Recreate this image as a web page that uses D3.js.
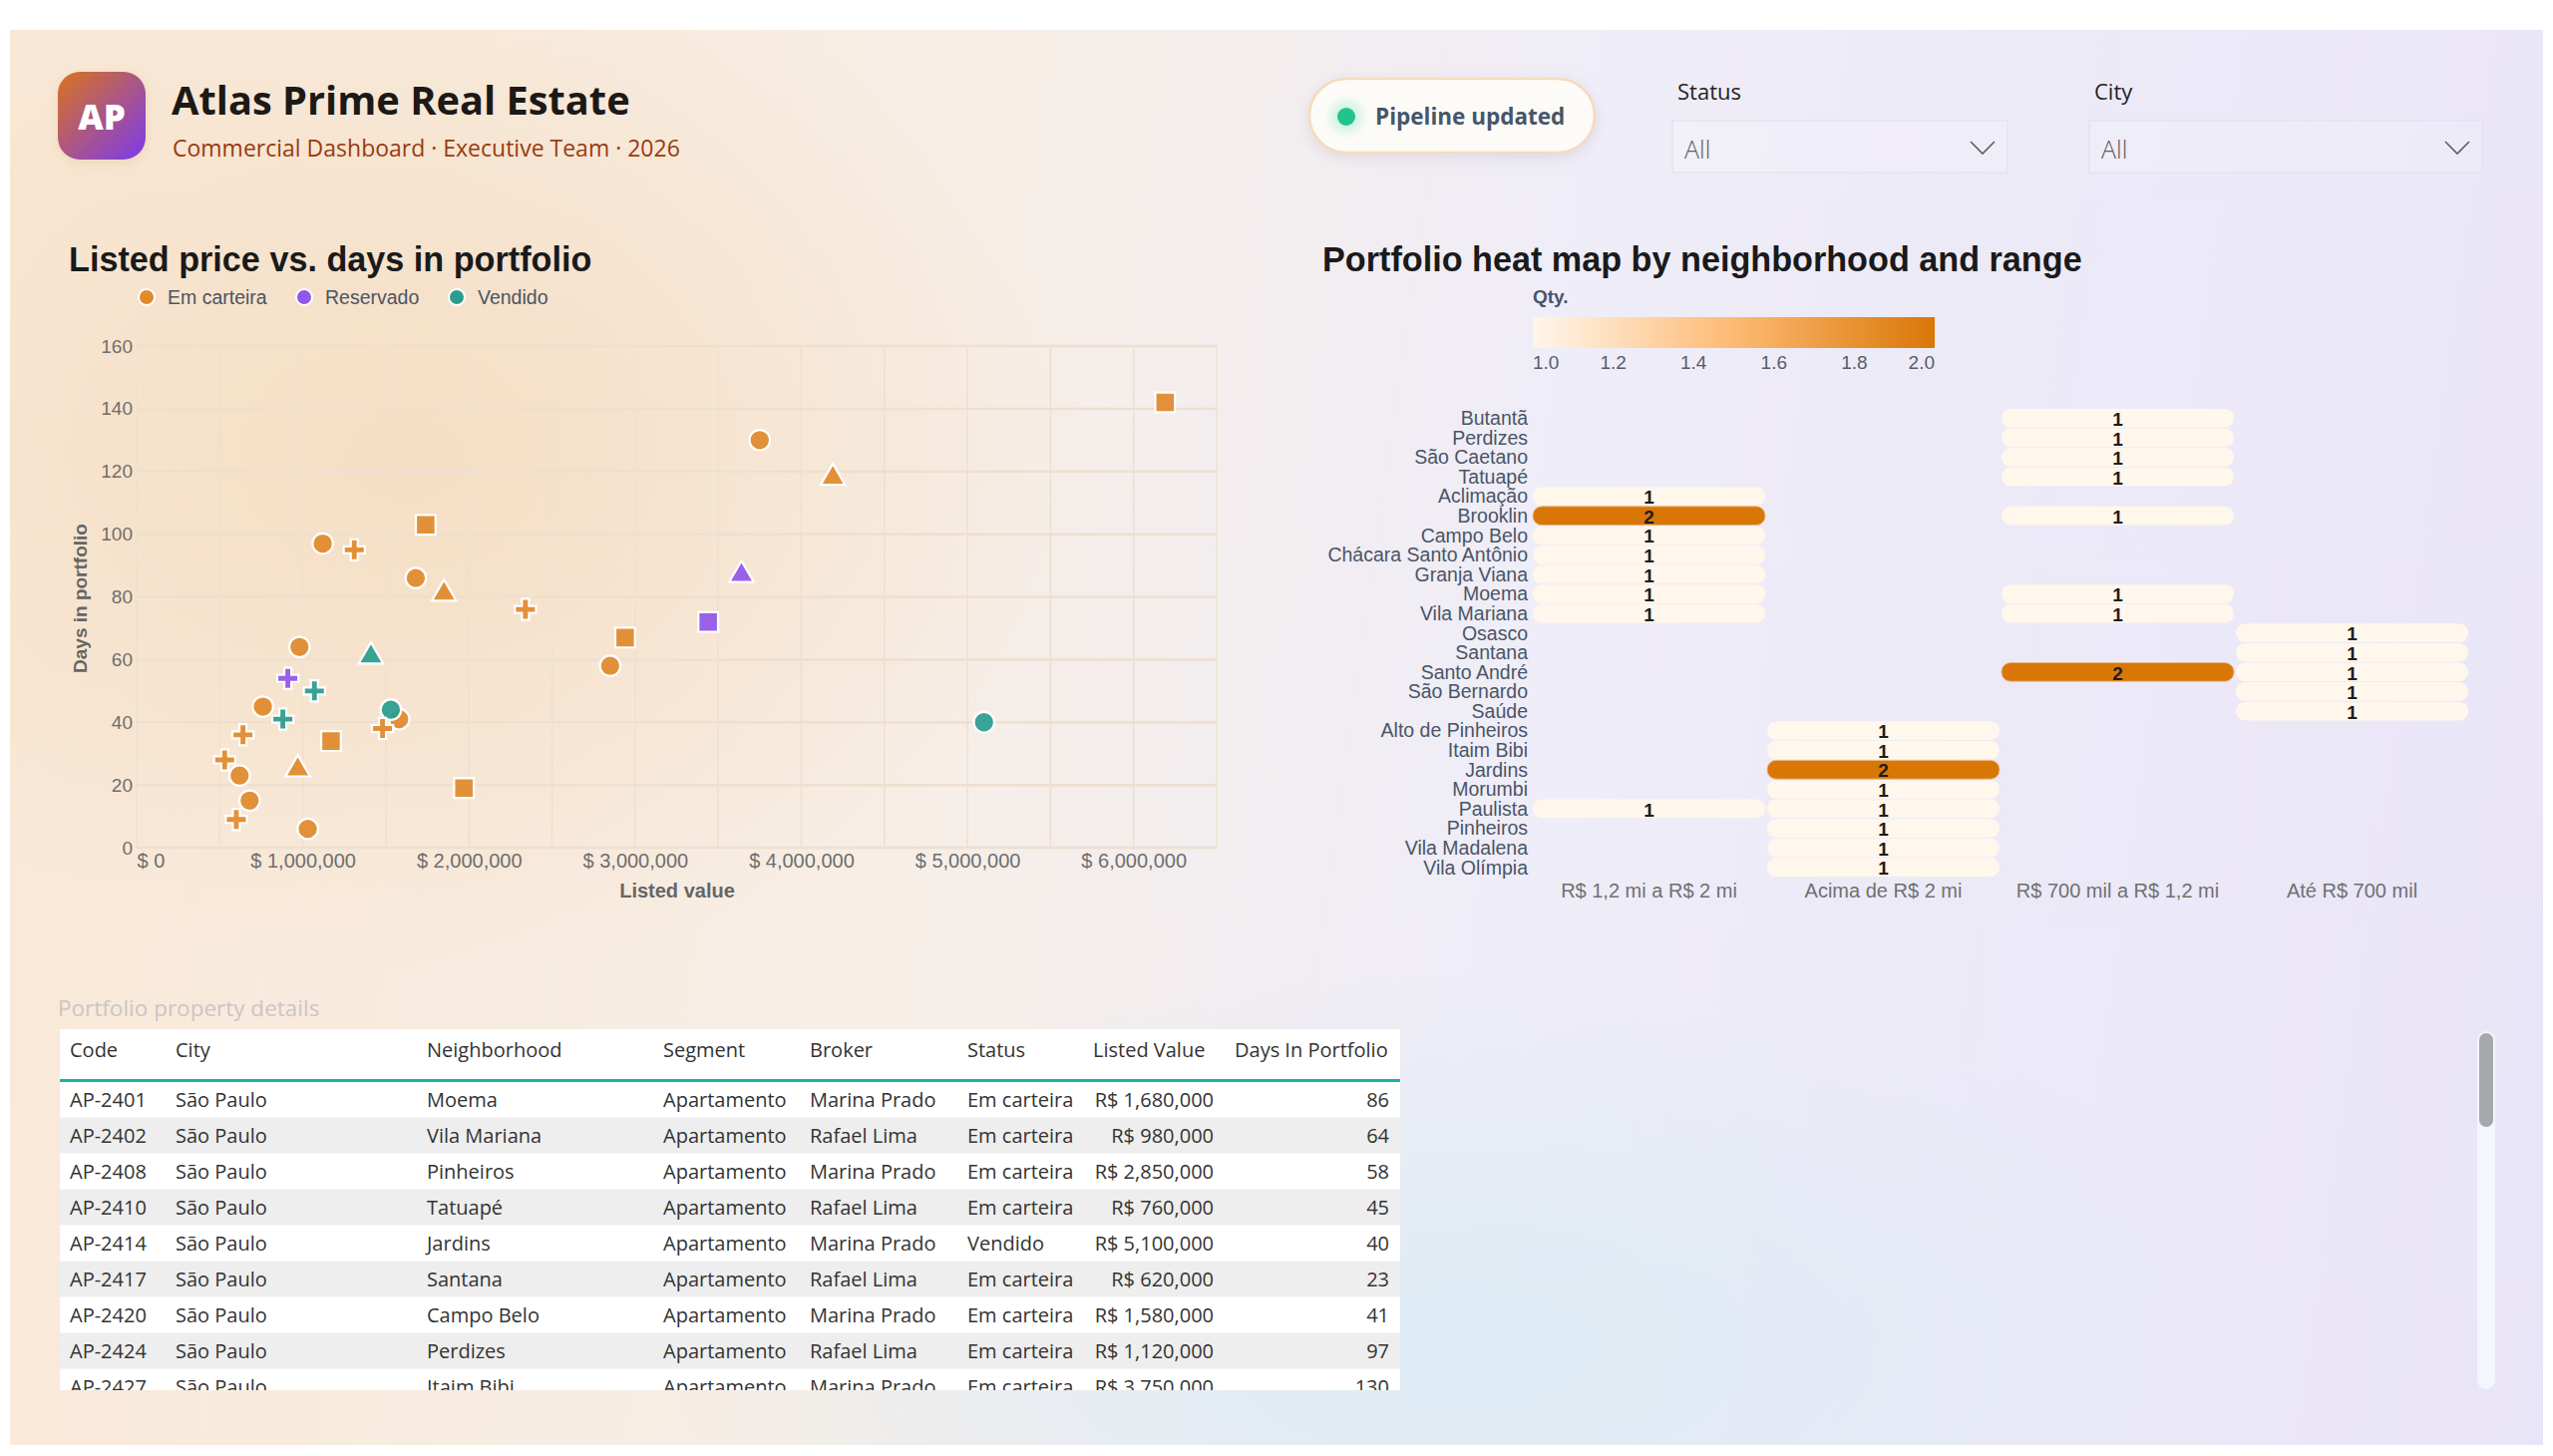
<!DOCTYPE html>
<html>
<head>
<meta charset="utf-8">
<script src="https://cdn.jsdelivr.net/npm/d3@7"></script>
<style>
  body { margin: 0; background: #ffffff; width: 2560px; height: 1460px; overflow: hidden; position: relative; }
  #panel {
    position: absolute; left: 10px; top: 30px; width: 2540px; height: 1419px;
    background:
      radial-gradient(ellipse 950px 720px at 400px 430px, rgba(245,221,193,0.95), rgba(245,221,193,0) 72%),
      radial-gradient(ellipse 1150px 520px at 1450px 1320px, rgba(221,235,244,1), rgba(221,235,244,0) 72%),
      linear-gradient(98deg, #f9e8d6 0%, #f7eee6 36%, #efedf7 58%, #e9e5f8 100%);
  }
  svg { position: absolute; left: 0; top: 0; }
</style>
</head>
<body>
<div id="panel"></div>
<svg id="dash" width="2560" height="1460"></svg>
<script>
// ---- data ----
const statuses = ["Em carteira", "Reservado", "Vendido"];
const statusColors = ["#e08a2c", "#9256ea", "#2a9d8f"];
const segments = ["Apartamento", "Casa", "Cobertura", "Sala comercial"];

// scatter points (one entry per property)
const listedValues = [1680000, 980000, 2850000, 760000, 5100000, 620000, 1580000, 1120000, 3750000,
  1740000, 1310000, 1850000, 2340000, 3640000, 3440000, 2940000, 1410000, 910000, 1070000,
  1530000, 880000, 1480000, 640000, 1170000, 530000, 970000, 1970000, 680000, 600000, 1030000,
  4190000, 6190000];
const daysInPortfolio = [86, 64, 58, 45, 40, 23, 41, 97, 130,
  103, 95, 81, 76, 87, 72, 67, 61, 54, 50,
  44, 41, 38, 36, 34, 28, 25, 19, 15, 9, 6,
  118, 142];
const pointStatus = ["Em carteira", "Em carteira", "Em carteira", "Em carteira", "Vendido", "Em carteira", "Em carteira", "Em carteira", "Em carteira",
  "Em carteira", "Em carteira", "Em carteira", "Em carteira", "Reservado", "Reservado", "Em carteira", "Vendido", "Reservado", "Vendido",
  "Vendido", "Vendido", "Em carteira", "Em carteira", "Em carteira", "Em carteira", "Em carteira", "Em carteira", "Em carteira", "Em carteira", "Em carteira",
  "Em carteira", "Em carteira"];
const pointSegment = ["Apartamento", "Apartamento", "Apartamento", "Apartamento", "Apartamento", "Apartamento", "Apartamento", "Apartamento", "Apartamento",
  "Casa", "Sala comercial", "Cobertura", "Sala comercial", "Cobertura", "Casa", "Casa", "Cobertura", "Sala comercial", "Sala comercial",
  "Apartamento", "Sala comercial", "Sala comercial", "Sala comercial", "Casa", "Sala comercial", "Cobertura", "Casa", "Apartamento", "Sala comercial", "Apartamento",
  "Cobertura", "Casa"];

const xTicks = [0, 1000000, 2000000, 3000000, 4000000, 5000000, 6000000];
const yTicks = [0, 20, 40, 60, 80, 100, 120, 140, 160];

// heat map
const neighborhoods = ["Butantã", "Perdizes", "São Caetano", "Tatuapé", "Aclimação", "Brooklin", "Campo Belo",
  "Chácara Santo Antônio", "Granja Viana", "Moema", "Vila Mariana", "Osasco", "Santana", "Santo André",
  "São Bernardo", "Saúde", "Alto de Pinheiros", "Itaim Bibi", "Jardins", "Morumbi", "Paulista",
  "Pinheiros", "Vila Madalena", "Vila Olímpia"];
const priceRanges = ["R$ 1,2 mi a R$ 2 mi", "Acima de R$ 2 mi", "R$ 700 mil a R$ 1,2 mi", "Até R$ 700 mil"];
const heatNeighborhood = ["Aclimação", "Brooklin", "Campo Belo", "Chácara Santo Antônio", "Granja Viana", "Moema", "Vila Mariana", "Paulista",
  "Alto de Pinheiros", "Itaim Bibi", "Jardins", "Morumbi", "Paulista", "Pinheiros", "Vila Madalena", "Vila Olímpia",
  "Butantã", "Perdizes", "São Caetano", "Tatuapé", "Brooklin", "Moema", "Vila Mariana", "Santo André",
  "Osasco", "Santana", "Santo André", "São Bernardo", "Saúde"];
const heatRange = [0, 0, 0, 0, 0, 0, 0, 0,
  1, 1, 1, 1, 1, 1, 1, 1,
  2, 2, 2, 2, 2, 2, 2, 2,
  3, 3, 3, 3, 3];
const heatQty = [1, 2, 1, 1, 1, 1, 1, 1,
  1, 1, 2, 1, 1, 1, 1, 1,
  1, 1, 1, 1, 1, 1, 1, 2,
  1, 1, 1, 1, 1];
const qtyTicks = [1.0, 1.2, 1.4, 1.6, 1.8, 2.0];

// table
const tableHeaders = ["Code", "City", "Neighborhood", "Segment", "Broker", "Status", "Listed Value", "Days In Portfolio"];
const tableRows = [
  ["AP-2401", "São Paulo", "Moema", "Apartamento", "Marina Prado", "Em carteira", 1680000, 86],
  ["AP-2402", "São Paulo", "Vila Mariana", "Apartamento", "Rafael Lima", "Em carteira", 980000, 64],
  ["AP-2408", "São Paulo", "Pinheiros", "Apartamento", "Marina Prado", "Em carteira", 2850000, 58],
  ["AP-2410", "São Paulo", "Tatuapé", "Apartamento", "Rafael Lima", "Em carteira", 760000, 45],
  ["AP-2414", "São Paulo", "Jardins", "Apartamento", "Marina Prado", "Vendido", 5100000, 40],
  ["AP-2417", "São Paulo", "Santana", "Apartamento", "Rafael Lima", "Em carteira", 620000, 23],
  ["AP-2420", "São Paulo", "Campo Belo", "Apartamento", "Marina Prado", "Em carteira", 1580000, 41],
  ["AP-2424", "São Paulo", "Perdizes", "Apartamento", "Rafael Lima", "Em carteira", 1120000, 97],
  ["AP-2427", "São Paulo", "Itaim Bibi", "Apartamento", "Marina Prado", "Em carteira", 3750000, 130]
];

const uiFont = "'Segoe UI', 'Open Sans', sans-serif";
const chartFont = "'Liberation Sans', Arial, sans-serif";

const svg = d3.select("#dash");
const defs = svg.append("defs");

// ---------- header ----------
const logoGrad = defs.append("linearGradient").attr("id", "logoGrad")
  .attr("x1", "0").attr("y1", "0").attr("x2", "1").attr("y2", "1");
logoGrad.append("stop").attr("offset", "0%").attr("stop-color", "#d9731c");
logoGrad.append("stop").attr("offset", "100%").attr("stop-color", "#7c3aed");

const soft = defs.append("filter").attr("id", "soft").attr("x", "-30%").attr("y", "-30%").attr("width", "160%").attr("height", "160%");
soft.append("feDropShadow").attr("dx", 0).attr("dy", 3).attr("stdDeviation", 6)
  .attr("flood-color", "#e8c9a4").attr("flood-opacity", 0.6);

svg.append("rect").attr("x", 58).attr("y", 72).attr("width", 88).attr("height", 88).attr("rx", 22)
  .attr("fill", "url(#logoGrad)").attr("filter", "url(#soft)");
svg.append("text").attr("x", 102).attr("y", 130).attr("text-anchor", "middle")
  .style("font-family", uiFont).style("font-weight", 800).style("font-size", "35px").attr("fill", "#fff").text("AP");

svg.append("text").attr("x", 172).attr("y", 115)
  .style("font-family", uiFont).style("font-weight", 700).style("font-size", "39.8px").attr("fill", "#1c1917")
  .text("Atlas Prime Real Estate");
svg.append("text").attr("x", 173).attr("y", 157)
  .style("font-family", uiFont).style("font-size", "23px").attr("fill", "#9a3b10")
  .text("Commercial Dashboard · Executive Team · 2026");

// pill
const pillShadow = defs.append("filter").attr("id", "pillShadow").attr("x", "-20%").attr("y", "-40%").attr("width", "140%").attr("height", "180%");
pillShadow.append("feDropShadow").attr("dx", 0).attr("dy", 4).attr("stdDeviation", 7)
  .attr("flood-color", "#b9b4c4").attr("flood-opacity", 0.35);
svg.append("rect").attr("x", 1313).attr("y", 79).attr("width", 286).attr("height", 74).attr("rx", 37)
  .attr("fill", "#fcfbf8").attr("stroke", "#f5dbbb").attr("stroke-width", 2.5).attr("filter", "url(#pillShadow)");
const glow = defs.append("radialGradient").attr("id", "dotGlow");
glow.append("stop").attr("offset", "0%").attr("stop-color", "#34d399").attr("stop-opacity", 0.35);
glow.append("stop").attr("offset", "100%").attr("stop-color", "#34d399").attr("stop-opacity", 0);
svg.append("circle").attr("cx", 1350).attr("cy", 117).attr("r", 22).attr("fill", "url(#dotGlow)");
svg.append("circle").attr("cx", 1350).attr("cy", 117).attr("r", 9).attr("fill", "#22c38e");
svg.append("text").attr("x", 1379).attr("y", 117).attr("dy", "0.35em")
  .style("font-family", uiFont).style("font-weight", 700).style("font-size", "22.5px").attr("fill", "#475569")
  .text("Pipeline updated");

// slicers
function slicer(x, w, label) {
  svg.append("text").attr("x", x + 5).attr("y", 92).attr("dy", "0.35em")
    .style("font-family", uiFont).style("font-size", "22px").attr("fill", "#252423").text(label);
  svg.append("rect").attr("x", x).attr("y", 121).attr("width", w).attr("height", 52)
    .attr("fill", "rgba(255,255,255,0.18)").attr("stroke", "#e5e2ea").attr("stroke-width", 1.5);
  svg.append("text").attr("x", x + 12).attr("y", 150).attr("dy", "0.35em")
    .style("font-family", uiFont).style("font-size", "25px").style("font-weight", 300).attr("fill", "#605e5c").text("All");
  const cx = x + w - 25;
  svg.append("path").attr("d", `M${cx - 12},${142} L${cx},${154} L${cx + 12},${142}`)
    .attr("fill", "none").attr("stroke", "#605e5c").attr("stroke-width", 1.6);
}
slicer(1677, 336, "Status");
slicer(2095, 394, "City");

// ---------- scatter ----------
const sx = d3.scaleLinear().domain([0, 6500000]).range([137, 1220]);
const sy = d3.scaleLinear().domain([0, 160]).range([850, 347]);
const colorOf = d3.scaleOrdinal().domain(statuses).range(statusColors);
const shapeOf = d3.scaleOrdinal().domain(segments)
  .range([d3.symbolCircle, d3.symbolSquare, d3.symbolTriangle, d3.symbolCross]);
const sizeOf = d3.scaleOrdinal().domain(segments).range([330, 390, 260, 250]);

svg.append("text").attr("x", 69).attr("y", 272)
  .style("font-family", chartFont).style("font-weight", 700).style("font-size", "34.2px").attr("fill", "#1a1a1a")
  .text("Listed price vs. days in portfolio");

const legend = svg.append("g").selectAll("g").data(statuses).join("g")
  .attr("transform", (d, i) => `translate(${[147, 305, 458][i]},298)`);
legend.append("circle").attr("r", 8).attr("fill", d => colorOf(d)).attr("stroke", "#fff").attr("stroke-width", 2);
legend.append("text").attr("x", 21).attr("dy", "0.35em")
  .style("font-family", chartFont).style("font-size", "19.5px").attr("fill", "#4b5563").text(d => d);

const grid = svg.append("g");
grid.selectAll("line.v").data(d3.range(0, 6500001, 500000)).join("line").attr("class", "v")
  .attr("x1", d => sx(d)).attr("x2", d => sx(d)).attr("y1", sy(160)).attr("y2", sy(0))
  .attr("stroke", "#eee0d0").attr("stroke-width", 1.5);
grid.selectAll("line.h").data(yTicks).join("line").attr("class", "h")
  .attr("x1", sx(0)).attr("x2", sx(6500000)).attr("y1", d => sy(d)).attr("y2", d => sy(d))
  .attr("stroke", "#eedfcf").attr("stroke-width", 2.5);

const xAxis = svg.append("g").attr("transform", `translate(0,${sy(0)})`)
  .call(d3.axisBottom(sx).tickValues(xTicks).tickSize(0).tickPadding(6)
    .tickFormat(d => "$ " + d3.format(",")(d)));
xAxis.select(".domain").remove();
xAxis.selectAll("text").style("font-family", chartFont).style("font-size", "20px").attr("fill", "#6e6e6e")
  .attr("text-anchor", d => d === 0 ? "start" : "middle");

const yAxis = svg.append("g").attr("transform", `translate(${sx(0) - 4},0)`)
  .call(d3.axisLeft(sy).tickValues(yTicks).tickSize(0).tickPadding(0));
yAxis.select(".domain").remove();
yAxis.selectAll("text").style("font-family", chartFont).style("font-size", "19px").attr("fill", "#6e6e6e");

svg.append("text").attr("x", 679).attr("y", 893).attr("dy", "0.35em").attr("text-anchor", "middle")
  .style("font-family", chartFont).style("font-weight", 700).style("font-size", "20px").attr("fill", "#666")
  .text("Listed value");
svg.append("text").attr("transform", "translate(80,600) rotate(-90)").attr("dy", "0.35em").attr("text-anchor", "middle")
  .style("font-family", chartFont).style("font-weight", 700).style("font-size", "19px").attr("fill", "#666")
  .text("Days in portfolio");

svg.append("g").selectAll("path").data(d3.range(listedValues.length)).join("path")
  .attr("transform", i => `translate(${sx(listedValues[i])},${sy(daysInPortfolio[i])})`)
  .attr("d", i => d3.symbol().type(shapeOf(pointSegment[i])).size(sizeOf(pointSegment[i]))())
  .attr("fill", i => colorOf(pointStatus[i])).attr("fill-opacity", 0.93)
  .attr("stroke", "#fff").attr("stroke-width", 2.2);

// ---------- heat map ----------
svg.append("text").attr("x", 1326).attr("y", 272)
  .style("font-family", chartFont).style("font-weight", 700).style("font-size", "34.2px").attr("fill", "#1a1a1a")
  .text("Portfolio heat map by neighborhood and range");

const heatColor = d3.scaleLinear().domain([1, 1.5, 2]).range(["#fff6ec", "#fdba74", "#d97706"]);
const lx = d3.scaleLinear().domain([1, 2]).range([1537, 1940]);

svg.append("text").attr("x", 1537).attr("y", 297).attr("dy", "0.35em")
  .style("font-family", chartFont).style("font-weight", 700).style("font-size", "19px").attr("fill", "#475569").text("Qty.");
const qGrad = defs.append("linearGradient").attr("id", "qtyGrad");
qGrad.selectAll("stop").data(d3.range(0, 1.0001, 0.1)).join("stop")
  .attr("offset", d => `${d * 100}%`).attr("stop-color", d => heatColor(1 + d));
svg.append("rect").attr("x", lx(1)).attr("y", 318).attr("width", lx(2) - lx(1)).attr("height", 31).attr("fill", "url(#qtyGrad)");
svg.append("g").selectAll("text").data(qtyTicks).join("text")
  .attr("x", d => lx(d)).attr("y", 363).attr("dy", "0.35em")
  .attr("text-anchor", (d, i) => i === 0 ? "start" : (i === qtyTicks.length - 1 ? "end" : "middle"))
  .style("font-family", chartFont).style("font-size", "19px").attr("fill", "#555d6b")
  .text(d => d3.format(".1f")(d));

const hx = d3.scaleBand().domain(priceRanges).range([1536, 2476]);
const hy = d3.scaleBand().domain(neighborhoods).range([409.5, 879.5]);

svg.append("g").selectAll("text").data(neighborhoods).join("text")
  .attr("x", 1532).attr("y", d => hy(d) + hy.bandwidth() / 2).attr("dy", "0.35em").attr("text-anchor", "end")
  .style("font-family", chartFont).style("font-size", "19.5px").attr("fill", "#4a5568").text(d => d);
svg.append("g").selectAll("text").data(priceRanges).join("text")
  .attr("x", d => hx(d) + hx.bandwidth() / 2).attr("y", 893).attr("dy", "0.35em").attr("text-anchor", "middle")
  .style("font-family", chartFont).style("font-size", "20px").attr("fill", "#707070").text(d => d);

const cells = svg.append("g").selectAll("g").data(d3.range(heatQty.length)).join("g")
  .attr("transform", i => `translate(${hx(priceRanges[heatRange[i]])},${hy(heatNeighborhood[i])})`);
cells.append("rect").attr("x", 1).attr("y", 0.4).attr("width", hx.bandwidth() - 2).attr("height", hy.bandwidth() - 0.8)
  .attr("rx", 9).attr("fill", i => heatColor(heatQty[i]))
  .attr("stroke", i => heatQty[i] > 1 ? "#eab98a" : "none").attr("stroke-width", 1);
cells.append("text").attr("x", hx.bandwidth() / 2).attr("y", hy.bandwidth() / 2 + 1).attr("dy", "0.35em")
  .attr("text-anchor", "middle").style("font-family", chartFont).style("font-weight", 700).style("font-size", "19px")
  .attr("fill", "#1d1d1d").text(i => heatQty[i]);

// ---------- table ----------
svg.append("text").attr("x", 58).attr("y", 1011).attr("dy", "0.35em")
  .style("font-family", uiFont).style("font-size", "22.5px").attr("fill", "#c9c6c4").text("Portfolio property details");

defs.append("clipPath").attr("id", "tableClip").append("rect").attr("x", 60).attr("y", 1032).attr("width", 1344).attr("height", 362);
const table = svg.append("g").attr("clip-path", "url(#tableClip)");
const colX = [70, 176, 428, 665, 812, 970, 1217, 1393];
const headX = [70, 176, 428, 665, 812, 970, 1096, 1238];
const rowH = 36, rowTop = 1085;

table.append("rect").attr("x", 60).attr("y", 1032).attr("width", 1344).attr("height", 51).attr("fill", "#ffffff");
table.append("g").selectAll("text").data(tableHeaders).join("text")
  .attr("x", (d, i) => headX[i]).attr("y", 1053).attr("dy", "0.35em")
  .style("font-family", uiFont).style("font-size", "20px").attr("fill", "#333").text(d => d);

const rowsG = table.append("g").selectAll("g").data(tableRows).join("g")
  .attr("transform", (d, i) => `translate(0,${rowTop + i * rowH})`);
rowsG.append("rect").attr("x", 60).attr("y", 0).attr("width", 1344).attr("height", rowH - 1)
  .attr("fill", (d, i) => i % 2 ? "#eeeeee" : "#ffffff");
rowsG.append("rect").attr("x", 60).attr("y", rowH - 1).attr("width", 1344).attr("height", 1).attr("fill", "#f6f6f6");
rowsG.selectAll("text").data(d => d).join("text")
  .attr("x", (d, i) => colX[i]).attr("y", rowH / 2).attr("dy", "0.35em")
  .attr("text-anchor", (d, i) => i >= 6 ? "end" : "start")
  .style("font-family", uiFont).style("font-size", "20px").attr("fill", "#333")
  .text((d, i) => i === 6 ? "R$ " + d3.format(",")(d) : d);
table.append("rect").attr("x", 60).attr("y", 1082).attr("width", 1344).attr("height", 3).attr("fill", "#12b5a6");

// scrollbar
svg.append("rect").attr("x", 2484).attr("y", 1034).attr("width", 18).attr("height", 359).attr("rx", 9).attr("fill", "#f3f6fc");
svg.append("rect").attr("x", 2486).attr("y", 1036).attr("width", 14).attr("height", 94).attr("rx", 7).attr("fill", "#a7a8ac");
</script>
</body>
</html>
